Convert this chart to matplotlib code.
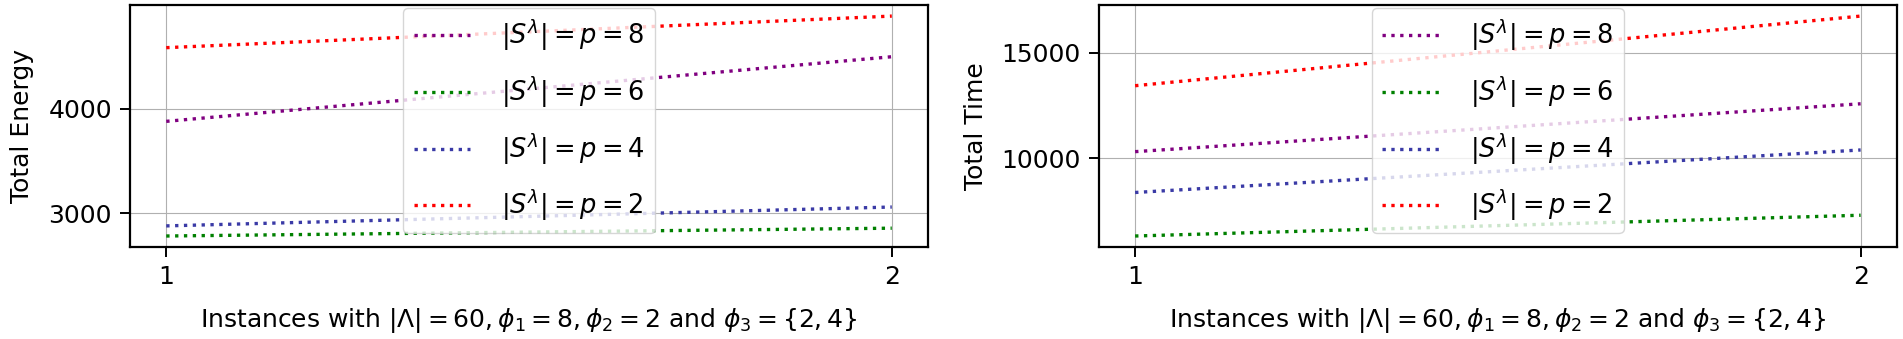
import matplotlib

matplotlib.use("Agg")
import matplotlib.pyplot as plt

instances = [1, 2]

labels = [r"$|S^\lambda| = p = 8$", r"$|S^\lambda| = p = 6$",
          r"$|S^\lambda| = p = 4$", r"$|S^\lambda| = p = 2$"]
colors = ["purple", "green", "#3a3aa6", "red"]

energy_p8 = [3880, 4500]
energy_p6 = [2780, 2855]
energy_p4 = [2877, 3058]
energy_p2 = [4587, 4890]

time_p8 = [10317, 12587]
time_p6 = [6317, 7302]
time_p4 = [8381, 10397]
time_p2 = [13444, 16746]

xlabel = r"Instances with $|\Lambda| = 60, \phi_1 = 8, \phi_2 = 2$ and $\phi_3 = \{2, 4\}$"

plt.rcParams["font.size"] = 18


def draw(ax, series, ylabel):
    for vals, lab, col in zip(series, labels, colors):
        ax.plot(instances, vals, linestyle=":", linewidth=2.4, color=col, label=lab)
    ax.set_xticks(instances)
    ax.set_xlabel(xlabel, fontsize=18, labelpad=12)
    ax.set_ylabel(ylabel, fontsize=18, labelpad=10)
    ax.grid(True)
    for sp in ax.spines.values():
        sp.set_linewidth(1.6)
    ax.tick_params(width=1.4, length=7, pad=6)
    ax.legend(loc="upper center", fontsize=18.5, labelspacing=0.82,
              borderaxespad=0.1, handletextpad=1.2, handlelength=2.2)


fig, (ax1, ax2) = plt.subplots(1, 2, figsize=(19.03, 3.39), dpi=100)
fig.subplots_adjust(left=0.0683, right=0.9968, top=0.985, bottom=0.2714, wspace=0.214)

draw(ax1, [energy_p8, energy_p6, energy_p4, energy_p2], "Total Energy")
draw(ax2, [time_p8, time_p6, time_p4, time_p2], "Total Time")

fig.savefig("out.png", dpi=100)
